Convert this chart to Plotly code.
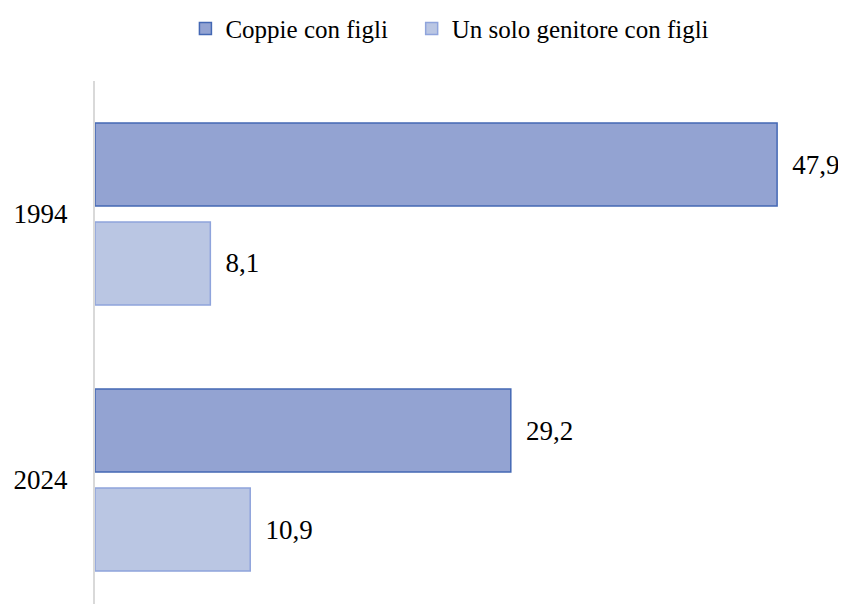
import plotly.graph_objects as go

# Dati
anni = ["1994", "2024"]
coppie = [47.9, 29.2]
genitore = [8.1, 10.9]

serif = "Liberation Serif"

fig = go.Figure()
fig.add_trace(go.Bar(
    y=anni, x=coppie, orientation="h", name="Coppie con figli\u00a0\u00a0\u00a0",
    marker=dict(color="#93a3d2", line=dict(color="#4468b4", width=1.5)),
    texttemplate="\u00a0\u2009%{x:.1f}", textposition="outside", cliponaxis=False,
    textfont=dict(family=serif, size=27, color="black"),
))
fig.add_trace(go.Bar(
    y=anni, x=genitore, orientation="h", name="Un solo genitore con figli",
    marker=dict(color="#bac6e3", line=dict(color="#8fa4dc", width=1.5)),
    texttemplate="\u00a0\u2009%{x:.1f}", textposition="outside", cliponaxis=False,
    textfont=dict(family=serif, size=27, color="black"),
))

# la pagina ha un margine di 8px: figura un po' piu piccola
fig.update_layout(
    width=838, height=596,
    barmode="group", bargap=0.256, bargroupgap=0.162,
    separators=",.",
    plot_bgcolor="white", paper_bgcolor="white",
    font=dict(family=serif, size=27, color="black"),
    margin=dict(l=87, r=39, t=73, b=0, autoexpand=False),
    showlegend=True,
    legend=dict(orientation="h", x=0.127, xanchor="left", y=1.1, yanchor="middle",
                font=dict(family=serif, size=25, color="black"),
                itemwidth=30),
)
fig.update_xaxes(range=[0, 50], visible=False, showgrid=False, automargin=False)
fig.update_yaxes(type="category", range=[1.466, -0.5], showgrid=False,
                 showline=True, linecolor="#d9d9d9", linewidth=2, automargin=False,
                 ticks="", ticklabelstandoff=20, tickfont=dict(family=serif, size=27))

fig.write_html("out.html")
